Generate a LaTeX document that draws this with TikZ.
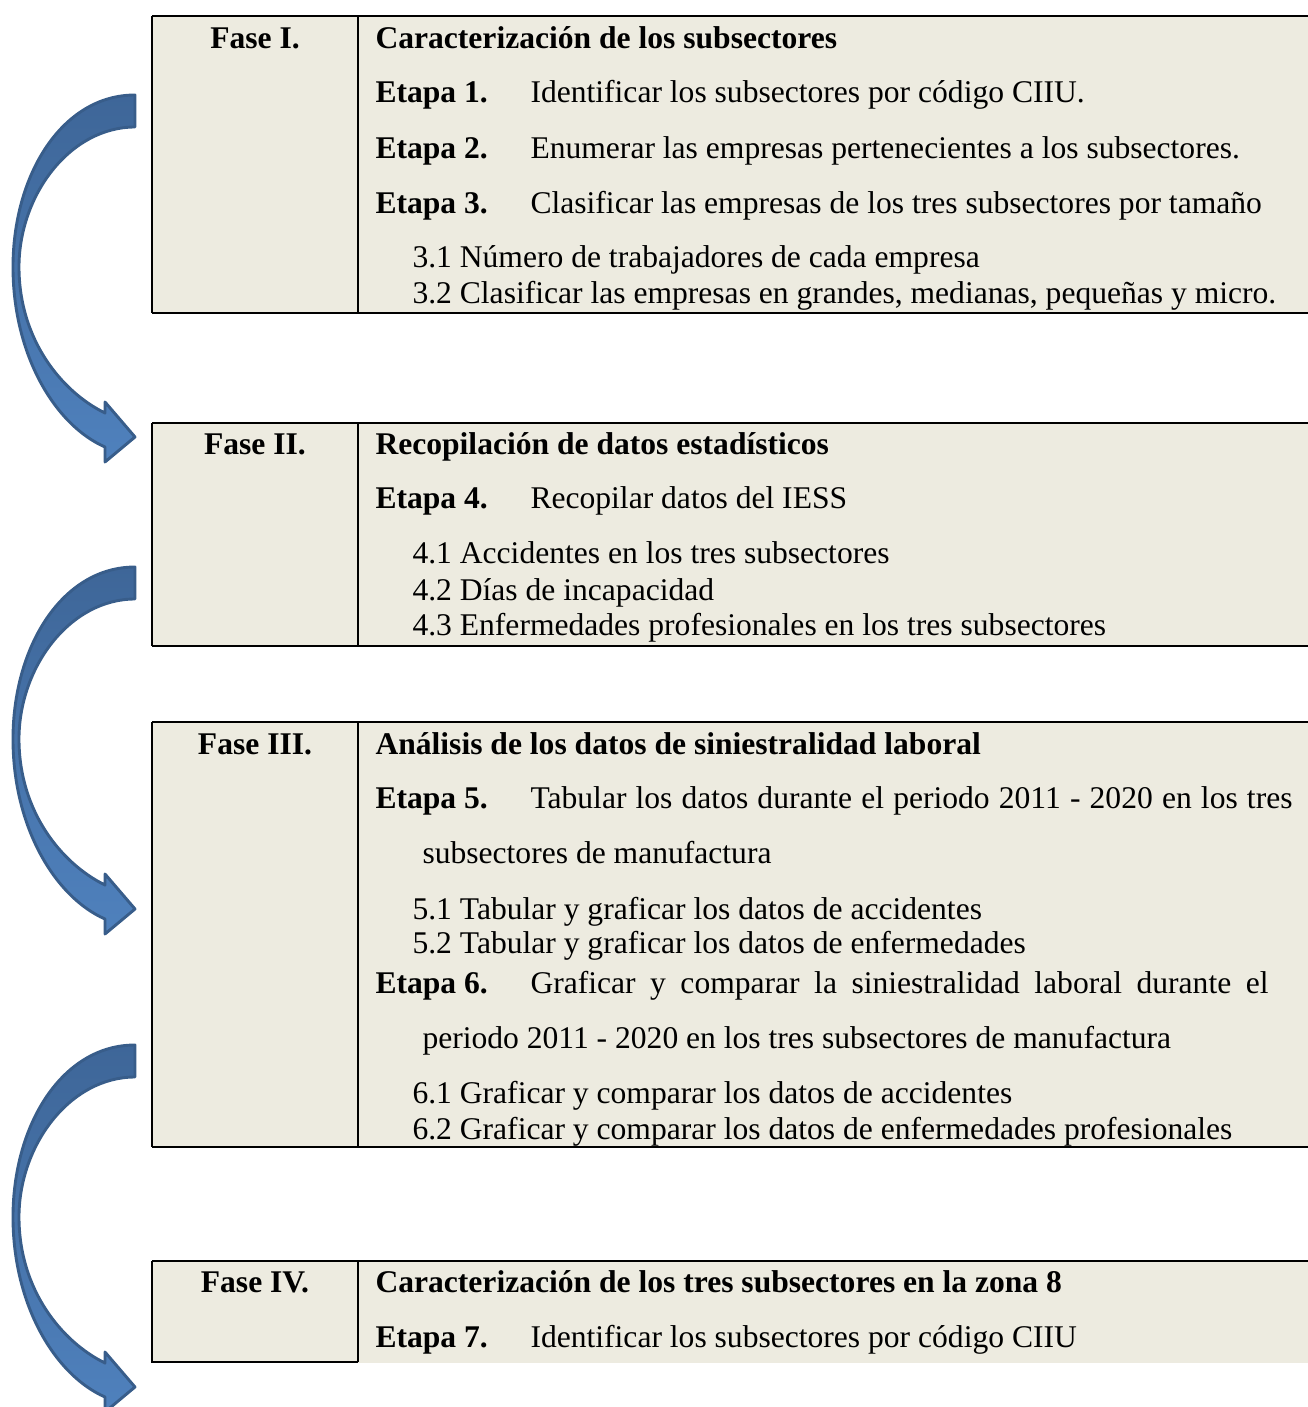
\documentclass[tikz,border=0pt]{standalone}
\usepackage{fontspec}
\setmainfont{Liberation Serif}
\definecolor{cellbg}{RGB}{237,235,224}
\definecolor{arrdark}{RGB}{62,102,152}
\definecolor{arrlight}{RGB}{79,129,189}
\definecolor{arredge}{RGB}{56,93,138}
\tikzset{
  txt/.style={anchor=base west,inner sep=0pt,font=\fontsize{12pt}{14pt}\selectfont},
  bld/.style={txt,font=\fontsize{12pt}{14pt}\selectfont\bfseries},
  fase/.style={anchor=base,inner sep=0pt,font=\fontsize{12pt}{14pt}\selectfont\bfseries},
  thinline/.style={line width=0.5pt},
  thickline/.style={line width=1.0pt},
  arrowshape/.style={top color=arrdark,bottom color=arrlight,draw=arredge,line width=1.1pt,line join=round},
  curvearrow/.pic={
    \path[arrowshape] (135,95) .. controls (62,95) and (13,175) .. (13,267)
      .. controls (13,355) and (55,425) .. (105,447) -- (105,462) -- (135,437)
      -- (105,402) -- (105,413) .. controls (62,392) and (19,340) .. (19,267)
      .. controls (19,195) and (70,127) .. (135,127) -- cycle;
  }
}
\begin{document}
\begin{tikzpicture}[x=0.38pt,y=-0.38pt]
\useasboundingbox (0,0) rectangle (1308,1407);
\clip (0,0) rectangle (1308,1407);
% ---------- Table 1
\fill[cellbg] (152,16) rectangle (1308,313);
\draw[thinline] (152,16) -- (1308,16);
\draw[thickline] (152,16) -- (152,313);
\draw[thinline] (358,16) -- (358,313);
\draw[line width=1.1pt] (152,313) -- (1308,313);
\node[fase] (f1) at (255,48) {Fase I.};
\node[bld] (t1) at (375,48) {Caracterización de los subsectores};
\node[bld] (e1) at (375,102) {Etapa 1.};
\node[txt] (d1) at (530,102) {Identificar los subsectores por código CIIU.};
\node[bld] (e2) at (375,158) {Etapa 2.};
\node[txt] (d2) at (530,158) {Enumerar las empresas pertenecientes a los subsectores.};
\node[bld] (e3) at (375,213) {Etapa 3.};
\node[txt] (d3) at (530,213) {Clasificar las empresas de los tres subsectores por tamaño};
\node[txt] (s31) at (412,267) {3.1 Número de trabajadores de cada empresa};
\node[txt] (s32) at (412,303) {3.2 Clasificar las empresas en grandes, medianas, pequeñas y micro.};
% ---------- Table 2
\fill[cellbg] (152,423) rectangle (1308,646);
\draw[thinline] (152,423) -- (1308,423);
\draw[thickline] (152,423) -- (152,646);
\draw[thinline] (358,423) -- (358,646);
\draw[line width=1.1pt] (152,646) -- (1308,646);
\node[fase] (f2) at (255,454) {Fase II.};
\node[bld] (t2) at (375,454) {Recopilación de datos estadísticos};
\node[bld] (e4) at (375,508) {Etapa 4.};
\node[txt] (d4) at (530,508) {Recopilar datos del IESS};
\node[txt] (s41) at (412,563) {4.1 Accidentes en los tres subsectores};
\node[txt] (s42) at (412,600) {4.2 Días de incapacidad};
\node[txt] (s43) at (412,635) {4.3 Enfermedades profesionales en los tres subsectores};
% ---------- Table 3
\fill[cellbg] (152,722) rectangle (1308,1147);
\draw[thinline] (152,722) -- (1308,722);
\draw[thickline] (152,722) -- (152,1147);
\draw[thinline] (358,722) -- (358,1147);
\draw[line width=1.1pt] (152,1147) -- (1308,1147);
\node[fase] (f3) at (255,754) {Fase III.};
\node[bld] (t3) at (375,754) {Análisis de los datos de siniestralidad laboral};
\node[bld] (e5) at (375,808) {Etapa 5.};
\node[txt] (d5) at (530,808) {\makebox[289.56pt][s]{Tabular los datos durante el periodo 2011 - 2020 en los tres}};
\node[txt] (d5b) at (422,863) {subsectores de manufactura};
\node[txt] (s51) at (412,919) {5.1 Tabular y graficar los datos de accidentes};
\node[txt] (s52) at (412,953) {5.2 Tabular y graficar los datos de enfermedades};
\node[bld] (e6) at (375,993) {Etapa 6.};
\node[txt] (d6) at (530,993) {\makebox[280.44pt][s]{Graficar y comparar la siniestralidad laboral durante el}};
\node[txt] (d6b) at (422,1048) {periodo 2011 - 2020 en los tres subsectores de manufactura};
\node[txt] (s61) at (412,1103) {6.1 Graficar y comparar los datos de accidentes};
\node[txt] (s62) at (412,1139) {6.2 Graficar y comparar los datos de enfermedades profesionales};
% ---------- Table 4
\fill[cellbg] (152,1261) rectangle (1308,1363);
\draw[thinline] (152,1261) -- (1308,1261);
\draw[thickline] (152,1261) -- (152,1362) -- (358,1362);
\draw[thinline] (358,1261) -- (358,1362);
\node[fase] (f4) at (255,1292) {Fase IV.};
\node[bld] (t4) at (375,1292) {Caracterización de los tres subsectores en la zona 8};
\node[bld] (e7) at (375,1347) {Etapa 7.};
\node[txt] (d7) at (530,1347) {Identificar los subsectores por código CIIU};
% ---------- Arrows
\pic (a1) at (0,0) {curvearrow};
\pic (a2) at (0,472) {curvearrow};
\pic (a3) at (0,950) {curvearrow};
\end{tikzpicture}
\end{document}
